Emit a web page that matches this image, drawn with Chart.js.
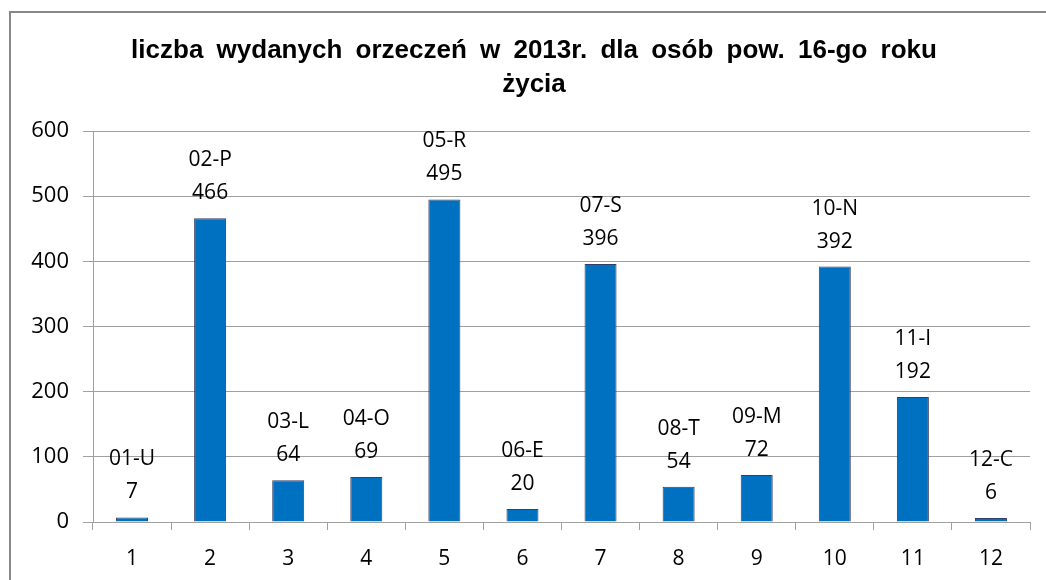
<!DOCTYPE html>
<html><head><meta charset="utf-8">
<script src="https://cdn.jsdelivr.net/npm/chart.js@4"></script>
<style>
html,body{margin:0;padding:0;background:#fff;overflow:hidden;}
#wrap{position:relative;width:1046px;height:580px;overflow:hidden;}
#frame{position:absolute;left:9px;top:11px;width:1100px;height:700px;border:2px solid #888;box-sizing:border-box;}
#c{position:absolute;left:0;top:0;}
#title{position:absolute;left:0;width:1068px;top:32px;text-align:center;font-family:"Liberation Sans",Arial,sans-serif;font-weight:bold;font-size:26px;line-height:34px;color:#000;word-spacing:6px;white-space:nowrap;}
#title div{white-space:nowrap;}
</style></head><body>
<div id="wrap"><div id="frame"></div><canvas id="c" width="1046" height="580" style="width:1046px;height:580px"></canvas><div id="title"></div></div>
<script>
const categories = ['1','2','3','4','5','6','7','8','9','10','11','12'];
const codes = ['01-U','02-P','03-L','04-O','05-R','06-E','07-S','08-T','09-M','10-N','11-I','12-C'];
const values = [7,466,64,69,495,20,396,54,72,392,192,6];
const titleLines = ['liczba wydanych orzeczeń w 2013r. dla osób pow. 16-go roku', 'życia'];
const yMin = 0, yMax = 600, yStep = 100;

const titleEl = document.getElementById('title');
titleLines.forEach(t => { const d = document.createElement('div'); d.textContent = t; titleEl.appendChild(d); });

const labelPlugin = {
  id: 'barLabels',
  afterDatasetsDraw(chart) {
    const meta = chart.getDatasetMeta(0);
    const ctx = chart.ctx;
    ctx.save();
    ctx.font = '21px "Open Sans"';
    ctx.fillStyle = '#000';
    ctx.textAlign = 'center';
    ctx.textBaseline = 'middle';
    meta.data.forEach((bar, i) => {
      ctx.fillText(String(values[i]), bar.x, bar.y - 25);
      ctx.fillText(codes[i], bar.x, bar.y - 58);
    });
    ctx.restore();
  }
};

new Chart(document.getElementById('c'), {
  type: 'bar',
  data: {
    labels: categories,
    datasets: [{
      data: values,
      backgroundColor: '#0070C0',
      borderColor: '#333D68',
      borderWidth: 1,
      barPercentage: 0.41,
      categoryPercentage: 1.0
    }]
  },
  options: {
    responsive: false,
    animation: false,
    layout: { padding: { left: 20, right: 16, top: 131, bottom: 0 } },
    plugins: {
      legend: { display: false },
      tooltip: { enabled: false },
      title: { display: false }
    },
    scales: {
      x: {
        grid: { display: true, drawOnChartArea: false, drawTicks: true, tickLength: 8, color: '#A0A0A0', offset: true },
        border: { display: true, color: '#A0A0A0' },
        ticks: { color: '#000', font: { family: '"Open Sans"', size: 21 }, padding: 16, maxRotation: 0 },
        afterFit(s) { s.height = 58; }
      },
      y: {
        min: yMin, max: yMax,
        ticks: { stepSize: yStep, color: '#000', font: { family: '"Open Sans"', size: 22 }, padding: 14 },
        grid: { color: '#A0A0A0', tickLength: 10, drawTicks: true },
        border: { display: true, color: '#A0A0A0' },
        afterFit(s) { s.width = 73; }
      }
    }
  },
  plugins: [labelPlugin]
});
</script>
</body></html>
